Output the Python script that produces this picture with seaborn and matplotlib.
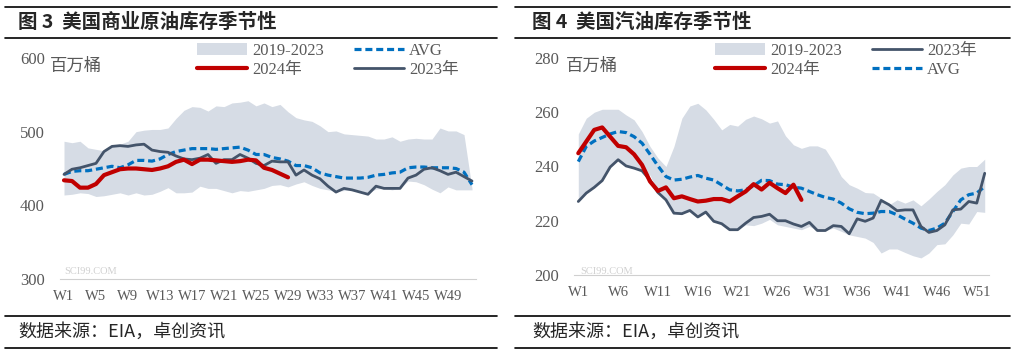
import numpy as np
import matplotlib
matplotlib.use("Agg")
import matplotlib.pyplot as plt
from matplotlib.lines import Line2D
from matplotlib.patches import Patch
import seaborn as sns

sns.set_style("white")
plt.rcParams['font.family'] = ['Liberation Serif', 'Noto Sans CJK SC']

# 周次
weeks = np.arange(1, 53)

# 图3 美国商业原油库存（百万桶）
crude_2024 = [434, 433, 424, 424, 429, 441, 445, 449, 450, 450, 449, 448, 450, 453, 459,
              462, 456, 462, 462, 461, 460, 459, 460, 462, 461, 451, 448, 443, 438]
crude_2023 = [442, 449, 451, 454, 457, 473, 480, 481, 480, 482, 483, 475, 473, 472, 467,
              463, 462, 464, 469, 457, 462, 462, 469, 464, 457, 454, 460, 459, 459, 441,
              448, 441, 436, 426, 418, 423, 421, 418, 415, 426, 423, 423, 423, 437, 441,
              449, 451, 447, 442, 445, 439, 433]
crude_avg = [442, 446, 447, 447, 449, 451, 453, 451, 455, 461, 461, 460, 463, 469, 473,
             475, 477, 477, 477, 476, 477, 478, 479, 475, 469, 469, 465, 463, 460, 454,
             454, 451, 444, 441, 439, 437, 437, 437, 438, 441, 442, 444, 445, 451, 452,
             452, 451, 451, 451, 450, 445, 428]
crude_max = [487, 485, 487, 478, 476, 474, 482, 483, 487, 500, 502, 503, 503, 505, 518,
             529, 534, 533, 528, 535, 534, 539, 540, 542, 535, 539, 534, 537, 527, 519,
             516, 514, 508, 500, 501, 497, 496, 495, 494, 490, 490, 493, 487, 490, 491,
             490, 490, 505, 501, 501, 496, 423]
crude_min = [414, 415, 417, 416, 412, 413, 415, 417, 414, 417, 414, 415, 419, 424, 417,
             417, 418, 426, 423, 423, 420, 417, 420, 419, 421, 423, 427, 428, 425, 429,
             432, 427, 423, 421, 419, 420, 421, 420, 417, 422, 423, 421, 423, 433, 432,
             428, 422, 417, 425, 421, 421, 421]

# 图4 美国汽油库存（百万桶）
gas_2024 = [244.9, 249.2, 253.5, 254.4, 251.0, 247.6, 247.1, 244.5, 240.6, 234.5, 231.0,
            232.3, 228.3, 229.0, 228.0, 227.1, 227.4, 228.0, 228.0, 227.1, 229.0, 230.8,
            233.5, 231.5, 234.0, 232.0, 230.2, 233.3, 227.7]
gas_2023 = [227.1, 230.2, 232.3, 234.8, 239.8, 242.5, 240.2, 239.4, 238.4, 235.0, 230.4,
            227.7, 222.8, 222.6, 223.8, 221.4, 223.2, 219.8, 218.9, 216.7, 216.7, 219.1,
            221.2, 221.6, 222.4, 220.0, 220.0, 218.8, 217.9, 219.4, 216.4, 216.4, 218.2,
            217.9, 215.2, 220.7, 219.8, 221.0, 227.5, 225.9, 223.7, 224.0, 224.0, 217.9,
            215.7, 216.4, 218.5, 224.0, 224.3, 227.1, 226.5, 237.5]
gas_avg = [241.8, 247.4, 249.4, 250.7, 252.0, 252.9, 252.5, 251.0, 248.6, 244.5, 240.2,
           236.3, 235.0, 235.3, 236.1, 236.7, 235.7, 235.0, 233.2, 231.4, 231.0, 231.4,
           232.9, 234.9, 234.8, 233.5, 233.3, 232.4, 232.0, 230.8, 229.6, 228.6, 228.0,
           226.5, 224.4, 223.1, 222.6, 222.8, 223.4, 223.4, 222.2, 220.6, 219.1, 217.3,
           216.4, 217.3, 219.1, 223.4, 227.7, 229.6, 230.2, 232.6]
gas_max = [252.0, 257.8, 260.0, 261.1, 261.1, 261.1, 259.0, 257.2, 252.9, 247.4, 243.1,
           240.0, 247.4, 257.8, 262.3, 263.3, 260.9, 257.4, 253.5, 255.5, 254.9, 257.4,
           258.6, 257.6, 256.0, 256.8, 251.3, 248.0, 246.7, 247.6, 247.6, 246.4, 241.8,
           236.3, 233.3, 232.0, 230.4, 230.2, 228.3, 225.9, 227.7, 226.5, 227.7, 225.5,
           228.0, 230.8, 233.3, 236.9, 239.4, 240.0, 240.0, 242.7]
gas_min = [227.1, 230.2, 232.3, 234.8, 239.8, 242.5, 240.2, 239.4, 238.4, 236.8, 230.4,
           227.7, 222.8, 222.6, 223.8, 221.4, 223.2, 219.8, 218.9, 216.7, 216.7, 218.5,
           218.2, 219.1, 220.5, 218.5, 217.9, 217.3, 216.7, 217.9, 216.4, 216.4, 217.3,
           216.1, 214.8, 214.2, 213.6, 212.0, 208.1, 209.6, 209.6, 208.3, 207.1, 206.3,
           208.1, 211.2, 211.5, 214.8, 219.1, 218.8, 223.4, 223.1]

crude_ticks = list(range(1, 53, 4))
gas_ticks = list(range(1, 53, 5))

BAND = '#D6DCE5'
RED = '#C00000'
DARK = '#44546A'
BLUE = '#0070C0'
GRAY = '#595959'

fig = plt.figure(figsize=(10.17, 3.55), dpi=100)
W, H = 1017, 355


def fx(px):
    return px / W


def fy(py):
    return 1 - py / H


def draw_panel(ax, band_lo, band_hi, avg, y23, y24, ylim, yticks, xticks, order):
    ax.fill_between(weeks, band_lo, band_hi, color=BAND, lw=0, zorder=1)
    sns.lineplot(x=weeks, y=avg, ax=ax, color=BLUE, lw=2.3, zorder=3,
                 dashes=False, linestyle=(0, (2.2, 1.2)))
    sns.lineplot(x=weeks, y=y23, ax=ax, color=DARK, lw=2.0, zorder=4)
    sns.lineplot(x=weeks[:len(y24)], y=y24, ax=ax, color=RED, lw=3.0, zorder=5)
    ax.set_xlim(0.5, 52.5)
    ax.set_ylim(*ylim)
    ax.set_yticks(yticks)
    ax.set_xticks(xticks)
    ax.set_xticklabels([f'W{w}' for w in xticks])
    ax.set_xticks(np.arange(0.5, 53, 1), minor=True)
    ax.tick_params(axis='x', which='major', length=0, pad=8, labelsize=10.5, labelcolor=GRAY)
    ax.tick_params(axis='x', which='minor', length=4, color='#D0D0D0', direction='out')
    ax.tick_params(axis='y', length=0, pad=11, labelsize=12, labelcolor=GRAY)
    for s in ['top', 'right', 'left']:
        ax.spines[s].set_visible(False)
    ax.spines['bottom'].set_color('#D0D0D0')
    ax.set_xlabel('')
    ax.set_ylabel('')
    ax.grid(False)
    ax.patch.set_alpha(0)

    h = {
        'band': Patch(facecolor=BAND, edgecolor='none', label='2019-2023'),
        'avg': Line2D([], [], color=BLUE, lw=2.3, linestyle=(0, (2.2, 1.2)), label='AVG'),
        '23': Line2D([], [], color=DARK, lw=2.0, label='2023年'),
        '24': Line2D([], [], color=RED, lw=3.0, label='2024年'),
    }
    return [h[k] for k in order]


# 左图
ax1 = fig.add_axes([fx(60), fy(279), fx(476) - fx(60), fy(58) - fy(279)])
hs1 = draw_panel(ax1, crude_min, crude_max, crude_avg, crude_2023, crude_2024,
                 (300, 600), [300, 400, 500, 600], crude_ticks, ['band', '24', 'avg', '23'])
fig.legend(handles=hs1, ncol=2, loc='upper left', bbox_to_anchor=(fx(197), fy(43)),
           frameon=False, fontsize=12, handlelength=3.0, handletextpad=0.3,
           columnspacing=1.8, labelspacing=0.2, borderpad=0, borderaxespad=0,
           labelcolor=GRAY)

# 右图
ax2 = fig.add_axes([fx(574.3), fy(275), fx(988.7) - fx(574.3), fy(58) - fy(275)])
hs2 = draw_panel(ax2, gas_min, gas_max, gas_avg, gas_2023, gas_2024,
                 (200, 280), [200, 220, 240, 260, 280], gas_ticks, ['band', '24', '23', 'avg'])
fig.legend(handles=hs2, ncol=2, loc='upper left', bbox_to_anchor=(fx(715), fy(43)),
           frameon=False, fontsize=12, handlelength=3.0, handletextpad=0.3,
           columnspacing=1.8, labelspacing=0.2, borderpad=0, borderaxespad=0,
           labelcolor=GRAY)

# 单位
fig.text(fx(50), fy(66), '百万桶', fontsize=12.5, color=GRAY, va='center',
         family=['Noto Sans CJK SC'])
fig.text(fx(566), fy(66), '百万桶', fontsize=12.5, color=GRAY, va='center',
         family=['Noto Sans CJK SC'])

# 水印
for x0 in (64, 580):
    fig.text(fx(x0), fy(272), 'SCI99.COM', fontsize=7.5, color='#D0D0D0', va='center')

# 标题和分隔线
for (x0, x1) in ((5, 497), (515, 1010)):
    for yy in (7, 38, 316, 348):
        fig.add_artist(Line2D([fx(x0), fx(x1)], [fy(yy), fy(yy)], color='black', lw=1.2))

fig.text(fx(18), fy(22), '图 3  美国商业原油库存季节性', fontsize=14, fontweight='bold',
         va='center', family=['Noto Sans CJK SC'])
fig.text(fx(532), fy(22), '图 4  美国汽油库存季节性', fontsize=14, fontweight='bold',
         va='center', family=['Noto Sans CJK SC'])
fig.text(fx(18), fy(332), '数据来源：EIA，卓创资讯', fontsize=13, va='center',
         family=['Noto Sans CJK SC'])
fig.text(fx(532), fy(332), '数据来源：EIA，卓创资讯', fontsize=13, va='center',
         family=['Noto Sans CJK SC'])

fig.savefig('out.png', dpi=100)
